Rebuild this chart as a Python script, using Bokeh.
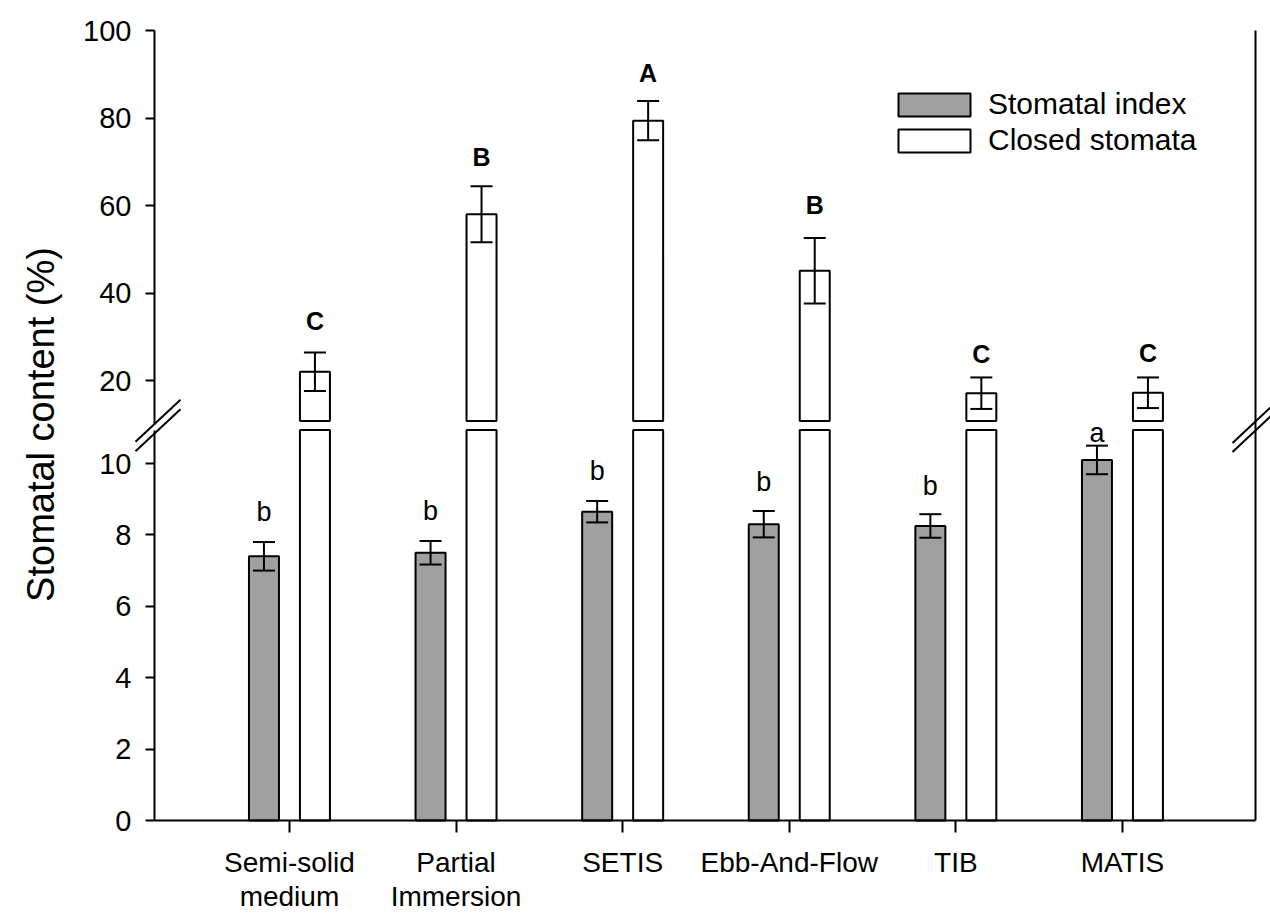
import numpy as np
from math import pi
from bokeh.plotting import figure
from bokeh.models import (Range1d, FixedTicker, LinearAxis, Whisker, ColumnDataSource,
                          Legend, LegendItem, TeeHead)
from bokeh.embed import file_html
from bokeh.resources import INLINE
from bokeh.core.properties import value

# ---------------- data ----------------
categories = ["Semi-solid\nmedium", "Partial\nImmersion", "SETIS", "Ebb-And-Flow", "TIB", "MATIS"]
stomatal_index = [7.4, 7.5, 8.65, 8.3, 8.25, 10.1]
stomatal_index_err = [0.4, 0.33, 0.3, 0.37, 0.33, 0.4]
closed_stomata = [22.0, 58.0, 79.4, 45.1, 17.1, 17.2]
closed_stomata_err = [4.4, 6.4, 4.5, 7.5, 3.6, 3.5]
index_letters = ["b", "b", "b", "b", "b", "a"]
closed_letters = ["C", "B", "A", "B", "C", "C"]
lower_ticks = [0, 2, 4, 6, 8, 10]
upper_ticks = [20, 40, 60, 80, 100]
series_names = ["Stomatal index", "Closed stomata"]
y_title = "Stomatal content (%)"

# label lift above the error-bar caps (screen px, negative = up)
index_letter_lift = [-30, -30, -30, -29, -28, -13]
closed_letter_lift = [-32, -29, -28, -33, -23, -24]

FONT = "Liberation Sans"
GRAY = "#a0a0a0"

# ---------------- layout geometry (pixels) ----------------
W, H = 1270, 916
FRAME_L, FRAME_R, FRAME_T, FRAME_B = 0, 1270, 20, 916
ZERO_PX = 820                          # pixel of the x axis (value 0)
AX_L, AX_R = 154, 1255                 # left / right axis lines
PX_X = 166.6                           # px per category
LOW_PX = 35.7                          # px per unit, lower segment
UP_PX = 4.375                          # px per unit, upper segment
UP_100 = 30                            # pixel of 100 on upper segment

X_AX_LO = 0.19
X_AX_HI = X_AX_LO + (AX_R - AX_L) / PX_X
x_start = X_AX_LO - (AX_L - FRAME_L) / PX_X
x_end = X_AX_LO + (FRAME_R - AX_L) / PX_X


def low_val(py):
    return (ZERO_PX - py) / LOW_PX


def up_val(py):
    return 100 - (py - UP_100) / UP_PX


def px2x(px):
    return X_AX_LO + (px - AX_L) / PX_X


LOWER_CAP = low_val(429.5)     # white bars cut at the break (lower part)
LOWER_AXIS_TOP = low_val(430)
UPPER_BASE = up_val(420.5)     # white bars start after the break (upper part)
UPPER_AXIS_BOT = up_val(423.5)

pos = np.arange(1, len(categories) + 1)
off = 0.153
bw = 0.18
gx = pos - off
wx = pos + off

si = np.array(stomatal_index)
sie = np.array(stomatal_index_err)
cs = np.array(closed_stomata)
cse = np.array(closed_stomata_err)

src_gray = ColumnDataSource(dict(x=gx, top=si, upper=si + sie, lower=si - sie,
                                 lab=index_letters, lift=index_letter_lift))
src_white_low = ColumnDataSource(dict(x=wx, top=np.minimum(cs, LOWER_CAP)))
src_white_up = ColumnDataSource(dict(x=wx, top=cs, bottom=np.full(len(cs), UPPER_BASE),
                                     upper=cs + cse, lower=cs - cse, lab=closed_letters,
                                     lift=closed_letter_lift))

p = figure(width=W, height=H, x_range=Range1d(x_start, x_end),
           y_range=Range1d(low_val(FRAME_B), low_val(FRAME_T)),
           toolbar_location=None, output_backend="svg",
           x_axis_location=None, y_axis_location=None,
           min_border_left=FRAME_L, min_border_right=W - FRAME_R,
           min_border_top=FRAME_T, min_border_bottom=H - FRAME_B)
p.extra_y_ranges = {"upper": Range1d(up_val(FRAME_B), up_val(FRAME_T))}
p.grid.visible = False
p.outline_line_color = None
p.background_fill_color = "white"
p.border_fill_color = "white"


def style_axis(ax, tick_out, font_px):
    ax.axis_line_width = 2
    ax.axis_line_color = "black"
    ax.major_tick_line_width = 2
    ax.major_tick_line_color = "black"
    ax.major_tick_out = tick_out
    ax.major_tick_in = 0
    ax.minor_tick_line_color = None
    ax.major_label_text_font = FONT
    ax.major_label_text_font_size = font_px
    ax.major_label_text_color = "black"
    ax.major_label_standoff = 14


ax_low = LinearAxis(ticker=FixedTicker(ticks=lower_ticks), bounds=(0, LOWER_AXIS_TOP),
                    fixed_location=X_AX_LO)
style_axis(ax_low, 9, "29px")
p.add_layout(ax_low, "left")

ax_up = LinearAxis(y_range_name="upper", ticker=FixedTicker(ticks=upper_ticks),
                   bounds=(UPPER_AXIS_BOT, 100), fixed_location=X_AX_LO)
style_axis(ax_up, 9, "29px")
p.add_layout(ax_up, "left")

ax_right = LinearAxis(y_range_name="upper", ticker=FixedTicker(ticks=[]),
                      bounds=(up_val(ZERO_PX), 100),
                      fixed_location=X_AX_HI, major_tick_out=0, major_tick_in=0,
                      minor_tick_out=0, minor_tick_in=0, axis_line_width=2,
                      axis_line_color="black", major_label_text_font_size="0px")
p.add_layout(ax_right, "right")

xa = LinearAxis(ticker=FixedTicker(ticks=list(pos)), bounds=(X_AX_LO, X_AX_HI),
                fixed_location=0)
xa.major_label_overrides = {int(k): c for k, c in zip(pos, categories)}
style_axis(xa, 12, "28px")
xa.major_label_text_line_height = 1.1
p.add_layout(xa, "below")

# bars
gray_r = p.vbar(x="x", top="top", bottom=0, width=bw, source=src_gray,
                fill_color=GRAY, line_color="black", line_width=2)
p.vbar(x="x", top="top", bottom=0, width=bw, source=src_white_low,
       fill_color="white", line_color="black", line_width=2)
white_r = p.vbar(x="x", top="top", bottom="bottom", width=bw, source=src_white_up,
                 y_range_name="upper", fill_color="white", line_color="black", line_width=2)

# error bars
for src, rn in ((src_gray, "default"), (src_white_up, "upper")):
    p.add_layout(Whisker(base="x", upper="upper", lower="lower", source=src, y_range_name=rn,
                         level="annotation", line_width=2, line_color="black",
                         upper_head=TeeHead(size=22, line_width=2, line_color="black"),
                         lower_head=TeeHead(size=22, line_width=2, line_color="black")))

# significance letters
p.text(x="x", y="upper", text="lab", source=src_gray, text_align="center",
       text_baseline="alphabetic", y_offset="lift", text_font=value(FONT),
       text_font_size="27px", text_color="black")
p.text(x="x", y="upper", text="lab", source=src_white_up, y_range_name="upper",
       text_align="center", text_baseline="alphabetic", y_offset="lift", text_font=value(FONT),
       text_font_size="25px", text_font_style="bold", text_color="black")

# axis break marks (double slashes across left and right axis lines)
mk_x0, mk_y0, mk_x1, mk_y1 = [], [], [], []
for axx, crosses, dl, dr in ((AX_L, (423.5, 433.0), 19, 26), (AX_R, (421.0, 430.0), 23, 20)):
    for c in crosses:
        slope = 43.0 / 46.0
        mk_x0.append(px2x(axx - dl)); mk_y0.append(low_val(c + dl * slope))
        mk_x1.append(px2x(axx + dr)); mk_y1.append(low_val(c - dr * slope))
p.segment(x0=mk_x0, y0=mk_y0, x1=mk_x1, y1=mk_y1, line_width=2, line_color="black")

legend = Legend(items=[LegendItem(label=series_names[0], renderers=[gray_r]),
                       LegendItem(label=series_names[1], renderers=[white_r])],
                location=(889 - FRAME_L, FRAME_B - 157), glyph_width=90, glyph_height=29,
                label_standoff=9, label_text_font=FONT, label_text_font_size="30px",
                label_text_color="black", spacing=2, padding=0, margin=0,
                border_line_color=None, background_fill_alpha=0)
p.add_layout(legend)

# y axis title
p.text(x=[px2x(40)], y=[low_val(424)], text=[y_title], angle=pi / 2, text_align="center",
       text_baseline="middle", text_font=value(FONT), text_font_size="38px", text_color="black")

open("out.html", "w").write(file_html(p, INLINE))
